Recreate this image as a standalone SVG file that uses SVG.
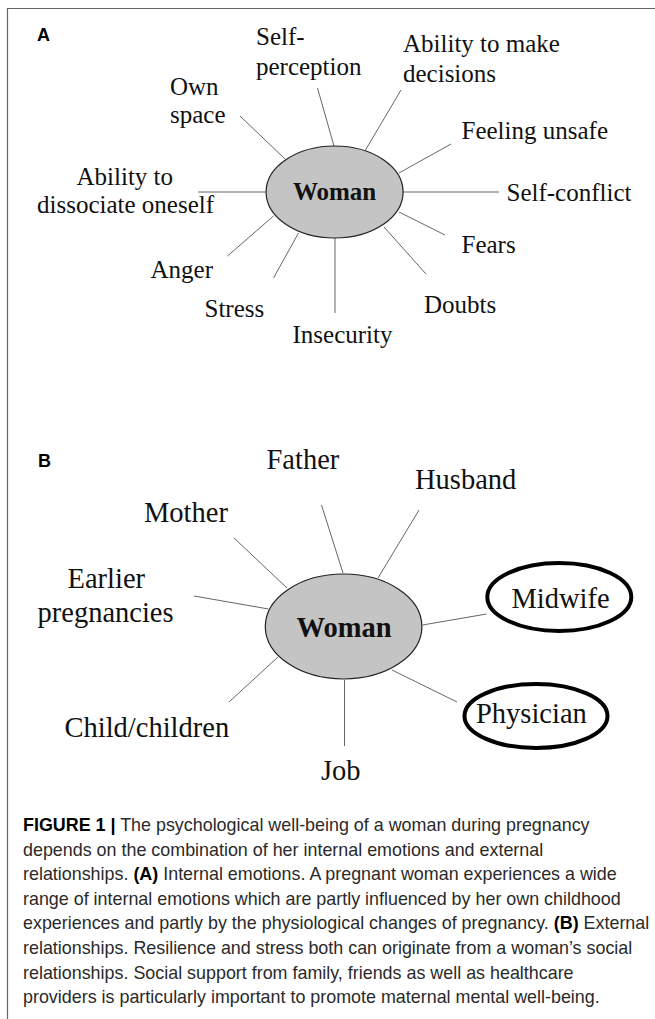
<svg xmlns="http://www.w3.org/2000/svg" width="655" height="1019" viewBox="0 0 655 1019">
<style>
.lbl{font-family:"Liberation Serif","Times New Roman",serif;fill:#111;}
.a{font-size:25px;}
.b{font-size:28.5px;}
.ctr{font-family:"Liberation Serif","Times New Roman",serif;font-weight:bold;fill:#111;text-anchor:middle;}
.pl{font-family:"Liberation Sans",Arial,sans-serif;font-weight:bold;font-size:18px;fill:#000;}
.cap{font-family:"Liberation Sans",Arial,sans-serif;font-size:17.9px;fill:#2a2a2a;}
.cb{font-weight:bold;fill:#000;}
.con line{stroke:#666;stroke-width:1;}
.hub{fill:#c4c4c4;stroke:#222;stroke-width:1.2;}
.ring{fill:#fff;stroke:#000;stroke-width:4;}
</style>
<rect width="655" height="1019" fill="#fff"/>
<path d="M655 8.5H7.5V1019" fill="none" stroke="#666" stroke-width="1.2"/>
<text class="pl" x="37" y="41">A</text>
<text class="pl" x="38" y="467">B</text>
<g id="connectors-a" class="con">
<line x1="317.5" y1="88" x2="334" y2="146"/>
<line x1="401" y1="90" x2="365.5" y2="150"/>
<line x1="240" y1="116" x2="285" y2="159"/>
<line x1="451" y1="144" x2="399" y2="173"/>
<line x1="403" y1="192" x2="499" y2="192"/>
<line x1="198" y1="192" x2="266" y2="192"/>
<line x1="399" y1="212" x2="445" y2="235"/>
<line x1="384" y1="227" x2="426" y2="274"/>
<line x1="335" y1="238" x2="335" y2="313"/>
<line x1="298.5" y1="233" x2="273.5" y2="278"/>
<line x1="273.5" y1="216" x2="227.5" y2="256"/>
</g>
<g id="connectors-b" class="con">
<line x1="321.5" y1="505" x2="343" y2="573"/>
<line x1="419" y1="510" x2="378" y2="578"/>
<line x1="234" y1="538" x2="287" y2="588"/>
<line x1="194" y1="596" x2="268.5" y2="609"/>
<line x1="422.5" y1="625" x2="486.5" y2="614"/>
<line x1="392" y1="670" x2="457" y2="702"/>
<line x1="344.5" y1="680" x2="344.5" y2="746"/>
<line x1="278" y1="657" x2="229" y2="702"/>
</g>
<g id="woman-a"><ellipse class="hub" cx="334.6" cy="192" rx="68.5" ry="46"/><text class="ctr" x="334.6" y="200" font-size="25">Woman</text></g>
<g id="self-perception"><text class="lbl a" x="256" y="45">Self-</text><text class="lbl a" x="256" y="75">perception</text></g>
<g id="decisions"><text class="lbl a" x="403" y="52">Ability to make</text><text class="lbl a" x="403" y="82">decisions</text></g>
<g id="own-space"><text class="lbl a" x="170" y="95">Own</text><text class="lbl a" x="170" y="123">space</text></g>
<g id="feeling-unsafe"><text class="lbl a" x="461.5" y="139">Feeling unsafe</text></g>
<g id="self-conflict"><text class="lbl a" x="506.5" y="201">Self-conflict</text></g>
<g id="dissociate"><text class="lbl a" x="76.5" y="185">Ability to</text><text class="lbl a" x="37" y="213">dissociate oneself</text></g>
<g id="fears"><text class="lbl a" x="461.5" y="253">Fears</text></g>
<g id="anger"><text class="lbl a" x="150.5" y="278">Anger</text></g>
<g id="doubts"><text class="lbl a" x="424" y="313">Doubts</text></g>
<g id="stress"><text class="lbl a" x="204.5" y="317">Stress</text></g>
<g id="insecurity"><text class="lbl a" x="292.5" y="343">Insecurity</text></g>
<g id="woman-b"><ellipse class="hub" cx="343.6" cy="626.5" rx="78.3" ry="52.5"/><text class="ctr" x="344" y="637" font-size="28.5">Woman</text></g>
<g id="father"><text class="lbl b" x="266.5" y="469">Father</text></g>
<g id="husband"><text class="lbl b" x="415" y="489">Husband</text></g>
<g id="mother"><text class="lbl b" x="144" y="522">Mother</text></g>
<g id="earlier-pregnancies"><text class="lbl b" x="67.5" y="588">Earlier</text><text class="lbl b" x="37.5" y="622">pregnancies</text></g>
<g id="midwife"><ellipse class="ring" cx="559.3" cy="597" rx="72" ry="34"/><text class="lbl b" x="511.5" y="608">Midwife</text></g>
<g id="physician"><ellipse class="ring" cx="536" cy="716" rx="71.5" ry="32"/><text class="lbl b" x="476" y="723">Physician</text></g>
<g id="child"><text class="lbl b" x="64.5" y="737">Child/children</text></g>
<g id="job"><text class="lbl b" x="321" y="780">Job</text></g>
<g id="caption">
<text class="cap" x="23" y="831"><tspan class="cb">FIGURE 1 |</tspan> The psychological well-being of a woman during pregnancy</text>
<text class="cap" x="23" y="855.6">depends on the combination of her internal emotions and external</text>
<text class="cap" x="23" y="880.2">relationships. <tspan class="cb">(A)</tspan> Internal emotions. A pregnant woman experiences a wide</text>
<text class="cap" x="23" y="904.8">range of internal emotions which are partly influenced by her own childhood</text>
<text class="cap" x="23" y="929.4">experiences and partly by the physiological changes of pregnancy. <tspan class="cb">(B)</tspan> External</text>
<text class="cap" x="23" y="954">relationships. Resilience and stress both can originate from a woman’s social</text>
<text class="cap" x="23" y="978.6">relationships. Social support from family, friends as well as healthcare</text>
<text class="cap" x="23" y="1003.2">providers is particularly important to promote maternal mental well-being.</text>
</g>
</svg>
